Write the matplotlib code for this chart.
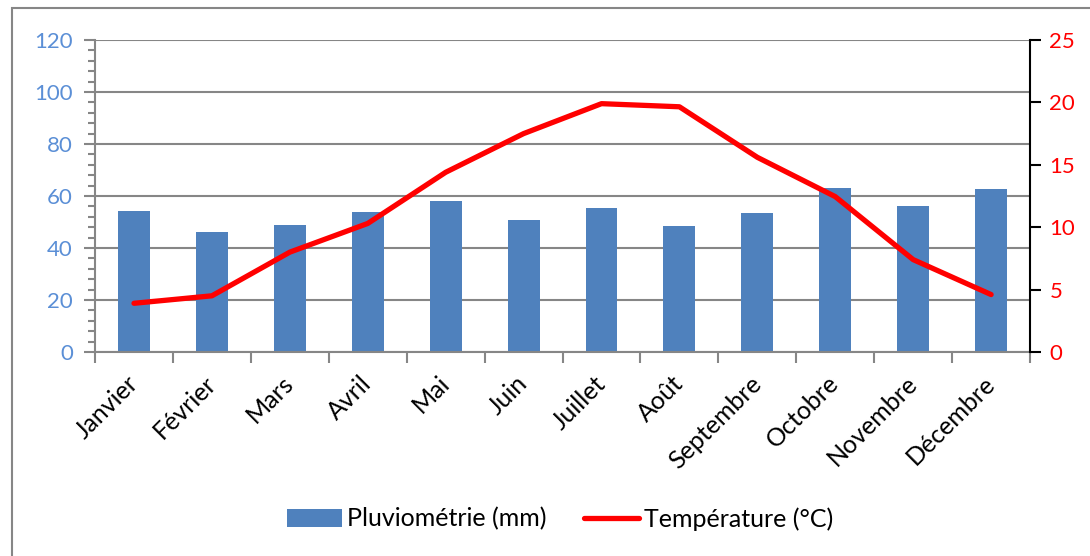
import numpy as np
import matplotlib
matplotlib.use("Agg")
import matplotlib.pyplot as plt
from matplotlib.ticker import MultipleLocator, FixedLocator
from matplotlib.patches import Rectangle

plt.rcParams['font.family'] = ['Lato', 'DejaVu Sans']

# --- Données ---
mois = ["Janvier", "Février", "Mars", "Avril", "Mai", "Juin", "Juillet",
        "Août", "Septembre", "Octobre", "Novembre", "Décembre"]
pluie = [54.3, 46.0, 48.8, 53.8, 58.0, 50.9, 55.3, 48.3, 53.5, 63.2, 56.3, 62.7]
temp = [3.9, 4.5, 8.0, 10.3, 14.4, 17.5, 19.9, 19.65, 15.6, 12.45, 7.4, 4.6]

BLEU = "#4F81BD"
BLEU_TXT = "#5B8FD6"
ROUGE = "#FF0000"
GRIS = "#868686"
FS = 16
FS_LAB = 18

fig = plt.figure(figsize=(10.9, 5.56), dpi=100)
ax = fig.add_axes([0.0872, 0.367, 0.945 - 0.0872, 0.928 - 0.367])

x = np.arange(len(mois))
ax.bar(x, pluie, width=0.41, color=BLEU, label="Pluviométrie (mm)", zorder=2)
ax.set_xlim(-0.5, len(mois) - 0.5)
ax.set_ylim(0, 120)
ax.yaxis.set_major_locator(MultipleLocator(20))
ax.yaxis.set_minor_locator(MultipleLocator(4))
ax.grid(axis='y', color=GRIS, lw=1.5, zorder=0)
ax.set_axisbelow(True)

ax.set_xticks(x)
ax.set_xticklabels(mois, rotation=45, ha='right', va='center',
                   rotation_mode='anchor', fontsize=FS_LAB)
ax.xaxis.set_minor_locator(FixedLocator(np.arange(-0.5, len(mois), 1.0)))
ax.tick_params(axis='x', which='major', length=0, pad=20)
ax.tick_params(axis='x', which='minor', length=8, width=1.5, color=GRIS)
ax.tick_params(axis='y', which='major', length=8, width=1.5, color=GRIS,
               labelcolor=BLEU_TXT, labelsize=FS, pad=8)
ax.tick_params(axis='y', which='minor', length=5, width=1.5, color=GRIS)

for s in ['top', 'right']:
    ax.spines[s].set_visible(False)
for s in ['left', 'bottom']:
    ax.spines[s].set_color(GRIS)
    ax.spines[s].set_linewidth(1.5)

# --- Température ---
ax2 = ax.twinx()
ax2.plot(x, temp, color=ROUGE, lw=3.8, solid_capstyle='round',
         label="Température (°C)", zorder=3)
ax2.set_ylim(0, 25)
ax2.yaxis.set_major_locator(MultipleLocator(5))
ax2.tick_params(axis='y', length=8, width=1.5, color='black',
                labelcolor=ROUGE, labelsize=FS, pad=6)
for s in ['top', 'left', 'bottom']:
    ax2.spines[s].set_visible(False)
ax2.spines['right'].set_color('black')
ax2.spines['right'].set_linewidth(1.5)

# --- Légende ---
h1, l1 = ax.get_legend_handles_labels()
h2, l2 = ax2.get_legend_handles_labels()
fig.legend(h1 + h2, l1 + l2, loc='center', bbox_to_anchor=(0.514, 1 - 519 / 556),
           ncol=2, frameon=False, fontsize=FS_LAB, handlelength=2.2,
           handletextpad=0.2, columnspacing=1.5)

# --- Cadre du graphique ---
fig.patches.append(Rectangle((12 / 1090, -0.1), 1.2, 1 - 8 / 556 + 0.1,
                             transform=fig.transFigure, fill=False,
                             edgecolor=GRIS, lw=1.5))

fig.savefig("out.png", dpi=100)
